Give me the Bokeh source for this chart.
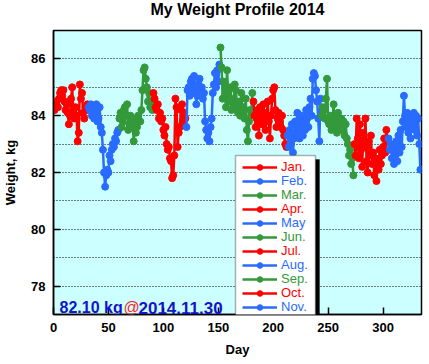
from bokeh.plotting import figure
from bokeh.models import Legend, LegendItem, FixedTicker, Label, BoxAnnotation
from bokeh.embed import file_html
from bokeh.resources import INLINE

# ---- data ----
month_labels = ["Jan.", "Feb.", "Mar.", "Apr.", "May", "Jun.", "Jul.", "Aug.", "Sep.", "Oct.", "Nov."]
month_start_day = [1, 32, 60, 91, 121, 152, 182, 213, 244, 274, 305]

jan = [84.2, 84.4, 84.5, 84.3, 84.6, 84.8, 84.9, 84.7, 84.9, 84.5, 84.2, 84.4, 84.1, 83.7, 84.0, 84.6,
       85.0, 84.2, 83.9, 84.3, 84.0, 83.1, 83.4, 85.1, 84.6, 84.8, 84.1, 83.9, 84.3, 84.2, 84.4]
feb = [84.3, 84.2, 84.4, 84.0, 84.3, 83.9, 84.2, 84.4, 83.8, 83.9, 84.3, 83.6, 83.4, 82.8, 82.0, 81.5,
       81.9, 82.1, 82.0, 82.6, 82.4, 82.8, 83.0, 82.9, 83.2, 83.1, 83.4, 83.5]
mar = [83.9, 84.1, 83.6, 83.8, 84.2, 84.3, 84.0, 84.4, 83.5, 83.7, 84.0, 83.6, 83.9, 83.1, 83.8, 83.4,
       83.6, 84.0, 83.8, 83.8, 84.2, 84.9, 85.6, 85.7, 85.3, 85.0, 84.5, 84.8, 84.3, 84.5, 84.2]
apr = [84.8, 84.6, 84.3, 84.2, 84.4, 83.9, 84.1, 83.8, 83.9, 83.5, 83.3, 83.6, 83.0, 82.8, 82.9, 82.5,
       82.4, 81.8, 81.9, 82.6, 84.6, 84.3, 82.9, 83.4, 83.6, 84.2, 84.4, 83.8, 84.1, 83.9]
may = [83.6, 84.9, 85.0, 84.7, 85.2, 85.3, 84.8, 85.4, 85.0, 84.4, 84.7, 85.1, 85.3, 84.9, 85.0, 84.6,
       84.8, 83.8, 83.5, 83.2, 83.4, 83.1, 83.6, 83.9, 84.8, 85.1, 85.5, 85.0, 85.6, 85.2, 85.8]
jun = [86.4, 85.7, 84.6, 85.2, 84.7, 84.3, 85.6, 84.8, 84.5, 85.0, 84.2, 84.6, 84.3, 85.1, 84.9, 84.4,
       84.1, 84.5, 84.0, 84.8, 84.2, 84.3, 83.9, 84.6, 83.5, 83.1, 83.8, 84.2, 84.0, 84.8]
jul = [84.5, 84.0, 83.6, 83.9, 84.2, 83.3, 84.3, 84.0, 83.7, 84.4, 84.1, 83.5, 83.9, 84.5, 83.8, 83.2,
       84.0, 84.6, 84.9, 85.0, 84.2, 83.6, 83.9, 84.1, 83.8, 83.6, 84.0, 83.5, 83.3, 83.0, 82.9]
aug = [83.3, 82.9, 83.5, 83.0, 83.7, 82.7, 83.2, 83.8, 83.4, 84.1, 83.6, 83.2, 83.9, 84.0, 83.3, 83.7,
       83.5, 84.2, 83.9, 83.6, 84.3, 84.6, 84.0, 85.3, 85.5, 85.4, 84.9, 84.5, 83.9, 83.1, 84.6]
sep = [84.0, 84.3, 84.2, 83.9, 84.6, 85.3, 83.8, 83.7, 84.0, 83.5, 83.8, 84.4, 83.6, 83.9, 83.4, 84.1,
       83.7, 83.5, 83.9, 83.6, 83.8, 83.3, 83.7, 83.2, 83.0, 82.6, 82.8, 82.3, 82.5, 81.9]
oct_ = [83.0, 82.6, 83.9, 83.2, 82.5, 83.7, 82.8, 82.2, 83.4, 82.9, 83.9, 82.4, 82.0, 83.1, 82.6, 83.3,
        82.3, 82.7, 81.9, 82.5, 81.7, 82.4, 82.1, 82.8, 82.3, 82.6, 82.9, 83.2, 82.7, 83.5, 83.1]
nov = [83.2, 82.8, 83.0, 82.5, 82.9, 82.3, 82.6, 83.1, 82.4, 83.3, 82.7, 83.5, 82.9, 83.8, 84.7, 84.0,
       83.6, 84.1, 83.4, 83.9, 83.2, 84.0, 83.7, 84.1, 83.5, 84.0, 83.3, 83.9, 83.0, 82.1]

series = [jan, feb, mar, apr, may, jun, jul, aug, sep, oct_, nov]
x_ticks = [0, 50, 100, 150, 200, 250, 300]
y_ticks = [78, 80, 82, 84, 86]
y_grid = [78, 79, 80, 81, 82, 83, 84, 85, 86]

RED, BLUE, GREEN = "#ff0000", "#2a6bff", "#33993a"
colors = [RED, BLUE, GREEN] * 4
FONT = "Liberation Sans"

p = figure(frame_width=368, frame_height=284, x_range=(0, 335), y_range=(77, 87),
           output_backend="svg", toolbar_location=None,
           min_border_left=52, min_border_right=2, min_border_top=30, min_border_bottom=40,
           background_fill_color="#ccffff", border_fill_color="white")
p.margin = (-11, 0, 0, 0)

p.title.text = "My Weight Profile 2014"
p.title.align = "center"
p.title.vertical_align = "top"
p.title.text_font = FONT
p.title.text_font_size = "16px"
p.title.text_font_style = "bold"
p.title.text_color = "black"
p.title.standoff = 22

p.outline_line_color = "black"
p.outline_line_width = 1.5

p.xgrid.visible = False
p.ygrid.ticker = FixedTicker(ticks=y_grid)
p.ygrid.grid_line_color = "black"
p.ygrid.grid_line_dash = "1 2"
p.ygrid.grid_line_width = 1

p.xaxis.ticker = FixedTicker(ticks=x_ticks)
p.yaxis.ticker = FixedTicker(ticks=y_ticks)
for ax in (p.xaxis[0], p.yaxis[0]):
    ax.axis_line_color = "black"
    ax.axis_line_width = 1.5
    ax.major_tick_in = 7
    ax.major_tick_out = 0
    ax.major_tick_line_width = 1.5
    ax.minor_tick_line_color = None
    ax.major_label_text_font = FONT
    ax.major_label_text_font_size = "13px"
    ax.major_label_text_font_style = "bold"
    ax.major_label_text_color = "black"
    ax.axis_label_text_font = FONT
    ax.axis_label_text_font_size = "13px"
    ax.axis_label_text_font_style = "bold"
    ax.axis_label_text_color = "black"
    ax.major_label_standoff = 8
p.xaxis.axis_label = "Day"
p.yaxis.axis_label = "Weight, kg"
p.xaxis.axis_label_standoff = 7
p.yaxis.axis_label_standoff = 10

rend = []
for start, vals, col in zip(month_start_day, series, colors):
    days = list(range(start, start + len(vals)))
    l = p.line(days, vals, line_color=col, line_width=2.5)
    c = p.scatter(days, vals, size=7, fill_color=col, line_color=col)
    rend.append([l, c])

# legend frame (shadow + white box), in screen pixels relative to the plot frame
p.add_layout(BoxAnnotation(left=186, right=266, bottom=-5, top=155,
                           left_units="screen", right_units="screen",
                           bottom_units="screen", top_units="screen",
                           fill_color="black", fill_alpha=1.0, line_color="black"))
p.add_layout(BoxAnnotation(left=182, right=262, bottom=-1, top=159,
                           left_units="screen", right_units="screen",
                           bottom_units="screen", top_units="screen",
                           fill_color="white", fill_alpha=1.0,
                           line_color="black", line_width=1.5))

ITEM_H = 14
n = len(month_labels)
for i, (m, r, col) in enumerate(zip(month_labels, rend, colors)):
    lg = Legend(items=[LegendItem(label=m, renderers=r)],
                location=(189, (n - 1 - i) * ITEM_H), padding=0, margin=0, spacing=0,
                glyph_width=35, glyph_height=ITEM_H, label_height=ITEM_H, label_standoff=4,
                label_text_font=FONT, label_text_font_size="13px",
                border_line_color=None, background_fill_alpha=0.0,
                label_text_color=col)
    p.add_layout(lg)

# latest reading annotation
p.add_layout(Label(x=6, y=7, x_units="screen", y_units="screen", text="82.10 kg",
                   text_font=FONT, text_font_size="16px", text_font_style="bold",
                   text_color="#1414c8", text_baseline="alphabetic"))
p.add_layout(Label(x=70, y=7, x_units="screen", y_units="screen", text="@",
                   text_font=FONT, text_font_size="16px",
                   text_color="#ff2020", text_baseline="alphabetic"))
p.add_layout(Label(x=85, y=7, x_units="screen", y_units="screen", text="2014.11.30",
                   text_font=FONT, text_font_size="17px", text_font_style="bold",
                   text_color="#1414c8", text_baseline="alphabetic"))

open("out.html", "w").write(file_html(p, INLINE))
